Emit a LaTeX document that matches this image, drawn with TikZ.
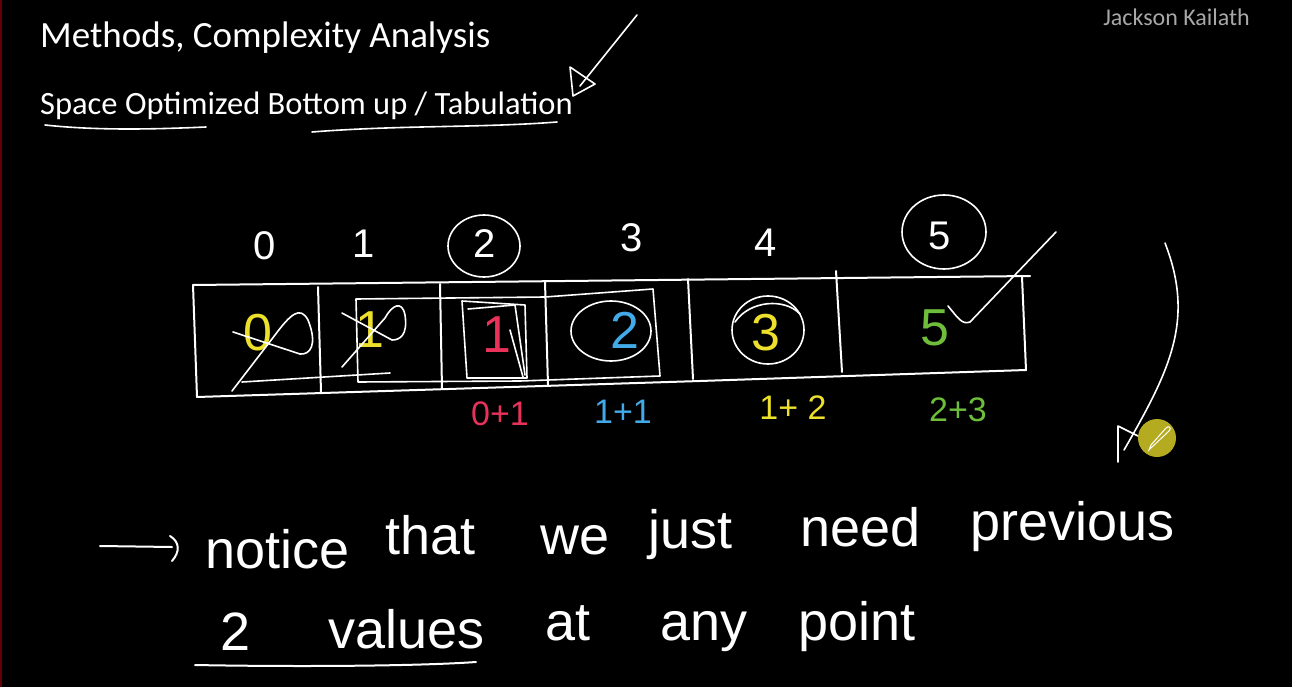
\documentclass[tikz,border=0pt]{standalone}
\usepackage{fontspec}
\setmainfont{Carlito}
\newfontfamily\hand{Liberation Sans}
\definecolor{hyel}{HTML}{ECE02C}
\definecolor{hred}{HTML}{E8325A}
\definecolor{hblue}{HTML}{42AAE8}
\definecolor{hgreen}{HTML}{6EBE3C}
\definecolor{wm}{HTML}{A8A8A8}
\tikzset{
  hw/.style={white, line width=2pt, line cap=round, line join=round},
  idx/.style={text=white, font=\hand\fontsize{40}{40}\selectfont, inner sep=0pt},
  cellnum/.style={font=\hand\fontsize{52}{52}\selectfont, inner sep=0pt},
  sumtxt/.style={font=\hand\fontsize{34}{34}\selectfont, inner sep=0pt},
  word/.style={text=white, font=\hand\fontsize{54}{54}\selectfont, inner sep=0pt, anchor=base west},
}
\begin{document}
\begin{tikzpicture}[x=1pt,y=-1pt]
\useasboundingbox (0,0) rectangle (1292,687);
\fill[black] (0,0) rectangle (1292,687);
\draw[red!40!black, line width=1.5pt] (0.75,0) -- (0.75,687);

% headings
\node[anchor=base west, text=white, font=\fontsize{37}{37}\selectfont, inner sep=0pt] (title) at (40,48) {Methods, Complexity Analysis};
\node[anchor=base west, text=white, font=\fontsize{32.5}{32.5}\selectfont, inner sep=0pt] (sub) at (40,115) {Space Optimized Bottom up / Tabulation};
\node[anchor=base east, text=wm, font=\fontsize{24}{24}\selectfont, inner sep=0pt] (author) at (1250,26) {Jackson Kailath};

% underlines under subtitle
\coordinate (u1a) at (45,125); \coordinate (u1b) at (206,127);
\coordinate (u2a) at (312,132); \coordinate (u2b) at (557,122);
\draw[hw, line width=1.6pt] (u1a) .. controls (100,131) and (160,129) .. (u1b);
\draw[hw, line width=1.6pt] (u2a) .. controls (400,125) and (480,128) .. (u2b);

% top-right arrow
\coordinate (ta) at (637,15); \coordinate (tb) at (580,86);
\draw[hw, line width=1.6pt] (ta) -- (tb);
\draw[hw, line width=1.6pt] (570,67) -- (595,84) -- (573,96) -- cycle;

% array box
\coordinate (bTL) at (193,285); \coordinate (bTR) at (1030,276);
\coordinate (bBL) at (197,397); \coordinate (bBR) at (1026,370);
\draw[hw] (bTL) -- (bTR);
\draw[hw] (bTL) -- (bBL);
\draw[hw] (bBL) -- (700,381) -- (bBR);
\draw[hw] (1022,277) -- (bBR);
\draw[hw] (318,287) -- (321,392);
\draw[hw] (440,284) -- (442,389);
\draw[hw] (545,282) -- (548,385);
\draw[hw] (688,279) -- (693,379);
\draw[hw] (836,271) -- (842,372);

% indices
\node[idx] (i0) at (265,246) {0};
\node[idx] (i1) at (364,244) {1};
\node[idx] (i2) at (485,244) {2};
\node[idx] (i3) at (632,238) {3};
\node[idx] (i4) at (766,243) {4};
\node[idx] (i5) at (940,236) {5};
\draw[hw, line width=1.6pt] (484,246) ellipse [x radius=36, y radius=31];
\draw[hw, line width=1.6pt] (944,232) ellipse [x radius=42, y radius=37];

% cell values
\node[cellnum, text=hyel] (v0) at (258,333) {0};
\node[cellnum, text=hyel] (v1) at (370,330) {1};
\node[cellnum, text=hred] (v2) at (497,335) {1};
\node[cellnum, text=hblue] (v3) at (625,330) {2};
\node[cellnum, text=hyel] (v4) at (766,333) {3};
\node[cellnum, text=hgreen] (v5) at (935,328) {5};

% crossing out cell 0
\draw[hw, line width=1.6pt] (232,391) -- (275,335) .. controls (290,315) and (300,305) .. (308,320)
  .. controls (318,345) and (310,355) .. (300,354) -- (233,332);
% crossing out cell 1
\draw[hw, line width=1.6pt] (342,367) -- (385,318) .. controls (392,305) and (402,300) .. (405,315)
  .. controls (408,335) and (400,340) .. (392,340) -- (342,313);
\draw[hw, line width=1.6pt] (242,382) -- (390,373);
% big rectangle around cells 1-3
\draw[hw, line width=1.6pt] (356,299) -- (545,297) -- (653,289) -- (660,376) -- (520,381) -- (358,382) -- cycle;
% inner boxes in cell 2
\draw[hw, line width=1.6pt] (462,301) -- (525,305) -- (527,378) -- (467,378) -- cycle;
\draw[hw, line width=1.6pt] (468,309) -- (515,305) -- (525,375);
\draw[hw, line width=1.6pt] (510,330) -- (523,377);
% circles
\draw[hw, line width=1.6pt] (611,331) ellipse [x radius=40, y radius=30];
\draw[hw, line width=1.6pt] (768,330) ellipse [x radius=36, y radius=34];
\draw[hw, line width=1.6pt] (735,322) .. controls (750,300) and (785,298) .. (800,314);
% checkmark
\draw[hw, line width=1.6pt] (948,306) .. controls (958,318) and (962,325) .. (970,322) -- (1056,232);

% sums
\node[sumtxt, text=hred] (s2) at (500,414) {0+1};
\node[sumtxt, text=hblue] (s3) at (623,412) {1+1};
\node[sumtxt, text=hyel] (s4) at (793,408) {1+ 2};
\node[sumtxt, text=hgreen] (s5) at (958,410) {2+3};

% right curve arrow with cursor
\coordinate (ra) at (1165,243); \coordinate (rb) at (1124,450);
\draw[hw, line width=1.6pt] (ra) .. controls (1195,320) and (1170,370) .. (rb);
\draw[hw, line width=1.6pt] (1118,462) -- (1118,426) -- (1138,436);
\fill[hyel!85!black, opacity=0.9] (1157,438) circle (19);
\draw[white, line width=1pt] (1152,447) -- (1149,450) -- (1151,445) -- (1166,428) .. controls (1169,425) and (1172,428) .. (1169,431) -- cycle;

% bottom sentence
\coordinate (arA) at (100,546); \coordinate (arB) at (172,547);
\draw[hw] (arA) -- (arB);
\draw[hw] (170,536) .. controls (180,542) and (180,552) .. (172,561);
\node[word] (w1) at (205,568) {notice};
\node[word] (w2) at (385,554) {that};
\node[word] (w3) at (540,554) {we};
\node[word] (w4) at (648,548) {just};
\node[word] (w5) at (800,546) {need};
\node[word] (w6) at (970,540) {previous};
\node[word] (w7) at (220,650) {2};
\node[word] (w8) at (328,648) {values};
\node[word] (w9) at (545,640) {at};
\node[word] (w10) at (660,640) {any};
\node[word] (w11) at (798,640) {point};
\coordinate (ulA) at (195,665); \coordinate (ulB) at (476,662);
\draw[hw] (ulA) .. controls (300,667) and (420,666) .. (ulB);
\end{tikzpicture}
\end{document}
